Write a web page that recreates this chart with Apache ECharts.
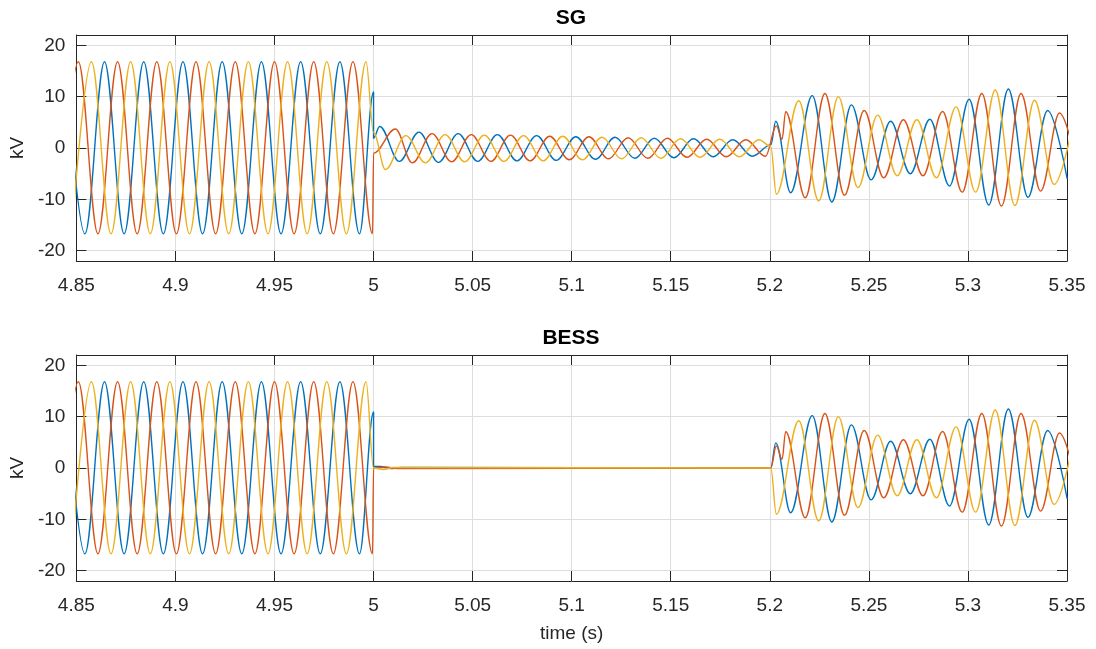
<!DOCTYPE html>
<html>
<head>
<meta charset="utf-8">
<script src="https://cdn.jsdelivr.net/npm/echarts@6/dist/echarts.min.js"></script>
<style>
html,body{margin:0;padding:0;background:#ffffff;}
#c{width:1096px;height:649px;}
</style>
</head>
<body>
<div id="c"></div>
<script>
// ---------- tick labels / titles ----------
const xTicks = [4.85, 4.9, 4.95, 5, 5.05, 5.1, 5.15, 5.2, 5.25, 5.3, 5.35];
const yTicks = [-20, -10, 0, 10, 20];
const panelTitles = ['SG', 'BESS'];
const phaseNames = ['Va', 'Vb', 'Vc'];

// ---------- waveform extrema: [time (s), kV] ----------
// pre-fault (identical in both panels)
const preA = [[4.8444,16.8],[4.8543,-16.7],[4.8642,16.8],[4.8741,-16.7],[4.8840,16.8],[4.8939,-16.7],[4.9038,16.8],[4.9137,-16.7],[4.9236,16.8],[4.9335,-16.7],[4.9434,16.8],[4.9533,-16.7],[4.9632,16.8],[4.9731,-16.7],[4.9830,16.8],[4.9929,-16.7],[5.0,10.9]];
const preB = [[4.8411,-16.7],[4.8510,16.8],[4.8609,-16.7],[4.8708,16.8],[4.8807,-16.7],[4.8906,16.8],[4.9005,-16.7],[4.9104,16.8],[4.9203,-16.7],[4.9302,16.8],[4.9401,-16.7],[4.9500,16.8],[4.9599,-16.7],[4.9698,16.8],[4.9797,-16.7],[4.9896,16.8],[4.9995,-16.7]];
const preC = [[4.8477,-16.7],[4.8576,16.8],[4.8675,-16.7],[4.8774,16.8],[4.8873,-16.7],[4.8972,16.8],[4.9071,-16.7],[4.9170,16.8],[4.9269,-16.7],[4.9368,16.8],[4.9467,-16.7],[4.9566,16.8],[4.9665,-16.7],[4.9764,16.8],[4.9863,-16.7],[4.9962,16.8]];

// fault period, SG panel
const sgMidA = [[5.0,1.9],[5.0031,4.2],[5.0130,-2.6],[5.0229,3.1],[5.0328,-2.8],[5.0427,2.8],[5.0526,-2.6],[5.0625,2.6],[5.0724,-2.5],[5.0823,2.4],[5.0922,-2.4],[5.1021,2.2],[5.1120,-2.2],[5.1219,2.1],[5.1318,-2.0],[5.1417,1.9],[5.1516,-1.9],[5.1615,1.8],[5.1714,-1.7],[5.1813,1.6],[5.1912,-1.6],[5.2005,0.6],[5.2030,5.2]];
const sgMidB = [[5.0,-1.0],[5.0110,3.7],[5.0196,-2.9],[5.0295,2.8],[5.0394,-2.7],[5.0493,2.6],[5.0592,-2.6],[5.0691,2.5],[5.0790,-2.5],[5.0889,2.3],[5.0988,-2.3],[5.1087,2.2],[5.1186,-2.1],[5.1285,2.0],[5.1384,-2.0],[5.1483,1.9],[5.1582,-1.8],[5.1681,1.7],[5.1780,-1.7],[5.1879,1.6],[5.1978,-1.6],[5.2033,4.3],[5.2062,1.7]];
const sgMidC = [[5.0,3.0],[5.0060,-4.2],[5.0163,2.4],[5.0262,-2.9],[5.0361,2.6],[5.0460,-2.7],[5.0559,2.5],[5.0658,-2.6],[5.0757,2.4],[5.0856,-2.5],[5.0955,2.3],[5.1054,-2.3],[5.1153,2.1],[5.1252,-2.1],[5.1351,2.0],[5.1450,-2.0],[5.1549,1.8],[5.1648,-1.8],[5.1747,1.7],[5.1846,-1.7],[5.1945,1.6],[5.2005,0.3]];

// fault period, BESS panel
const bessMidA = [[5.0,0.3],[5.0035,0.3],[5.0085,-0.1],[5.0140,0.1],[5.2005,0.0],[5.2030,4.9]];
const bessMidB = [[5.0,0.0],[5.0060,0.2],[5.0120,-0.1],[5.2005,0.0],[5.2033,4.3],[5.2062,1.7]];
const bessMidC = [[5.0,0.0],[5.0050,-0.3],[5.0100,0.1],[5.2005,0.0]];

// after fault clearing (both panels)
const postA = [[5.2105,-8.7],[5.2214,10.2],[5.2313,-10.5],[5.2412,8.4],[5.2511,-6.2],[5.2610,5.2],[5.2709,-5.0],[5.2808,5.6],[5.2907,-7.4],[5.3006,9.5],[5.3105,-11.1],[5.3204,11.5],[5.3303,-9.6],[5.3402,7.3],[5.3501,-6.0]];
const postB = [[5.2080,7.1],[5.2179,-9.7],[5.2278,10.6],[5.2377,-9.2],[5.2476,7.3],[5.2575,-5.8],[5.2674,5.5],[5.2773,-5.4],[5.2872,7.1],[5.2971,-8.6],[5.3070,10.6],[5.3169,-11.3],[5.3268,10.6],[5.3367,-8.4],[5.3462,6.8],[5.3561,-5.5]];
const postC = [[5.2033,-9.0],[5.2146,9.2],[5.2247,-10.3],[5.2346,10.0],[5.2445,-7.7],[5.2544,6.4],[5.2643,-5.4],[5.2742,5.5],[5.2841,-5.8],[5.2940,8.0],[5.3039,-8.6],[5.3138,11.3],[5.3237,-11.2],[5.3336,9.3],[5.3435,-7.1],[5.3534,5.5]];

const phaseColors = ['#0072BD', '#D95319', '#EDB120'];

// ---------- assemble ----------
const panels = [
  [preA.concat(sgMidA, postA), preB.concat(sgMidB, postB), preC.concat(sgMidC, postC)],
  [preA.concat(bessMidA, postA), preB.concat(bessMidB, postB), preC.concat(bessMidC, postC)]
];

const FONT = '"Liberation Sans", Arial, Helvetica, sans-serif';
const FRAME = '#262626';
const GRIDC = '#dedede';

const grids = [
  {left: 75, right: 29, top: 35, height: 226},
  {left: 75, right: 29, top: 355, height: 226}
];

const xAxes = [], yAxes = [], series = [];
panels.forEach((phases, gi) => {
  [true, false].forEach(primary => {
    xAxes.push({
      type: 'value', gridIndex: gi, position: primary ? 'bottom' : 'top',
      min: 4.85, max: 5.35, interval: 0.05,
      axisLine: {show: true, onZero: false, lineStyle: {color: FRAME, width: 1}},
      axisTick: {show: true, inside: true, length: 10, customValues: xTicks, lineStyle: {color: FRAME, width: 1}},
      axisLabel: {show: primary, customValues: xTicks, margin: 15, fontSize: 19, color: FRAME, fontFamily: FONT,
                  formatter: v => String(+(+v).toFixed(2))},
      splitLine: {show: primary, lineStyle: {color: GRIDC, width: 1}},
      name: (primary && gi === 1) ? 'time (s)' : '',
      nameLocation: 'middle', nameGap: 43,
      nameTextStyle: {fontSize: 19, color: FRAME, fontFamily: FONT}
    });
    yAxes.push({
      type: 'value', gridIndex: gi, position: primary ? 'left' : 'right',
      min: -22, max: 22,
      axisLine: {show: true, onZero: false, lineStyle: {color: FRAME, width: 1}},
      axisTick: {show: true, inside: true, length: 10, customValues: yTicks, lineStyle: {color: FRAME, width: 1}},
      axisLabel: {show: primary, customValues: yTicks, margin: 11, fontSize: 19, color: FRAME, fontFamily: FONT},
      splitLine: {show: primary, lineStyle: {color: GRIDC, width: 1}},
      name: primary ? 'kV' : '',
      nameLocation: 'middle', nameGap: 41, nameRotate: 90,
      nameTextStyle: {fontSize: 19, color: FRAME, fontFamily: FONT}
    });
  });
  phases.forEach((data, pi) => {
    series.push({
      type: 'line', name: phaseNames[pi],
      xAxisIndex: gi * 2, yAxisIndex: gi * 2,
      data: data,
      smooth: 0.36, smoothMonotone: 'x',
      showSymbol: false, symbol: 'none',
      lineStyle: {color: phaseColors[pi], width: 1.4},
      itemStyle: {color: phaseColors[pi]},
      clip: true, animation: false, z: 2 + pi
    });
  });
});

const titles = panelTitles.map((t, i) => ({
  text: t, left: 566, top: i === 0 ? 3 : 323, textAlign: 'center',
  textStyle: {fontSize: 21, fontWeight: 'bold', color: '#000', fontFamily: FONT}
}));

const chart = echarts.init(document.getElementById('c'), null, {renderer: 'canvas'});
chart.setOption({
  backgroundColor: '#ffffff',
  animation: false,
  title: titles,
  grid: grids,
  xAxis: xAxes,
  yAxis: yAxes,
  series: series
});
</script>
</body>
</html>
